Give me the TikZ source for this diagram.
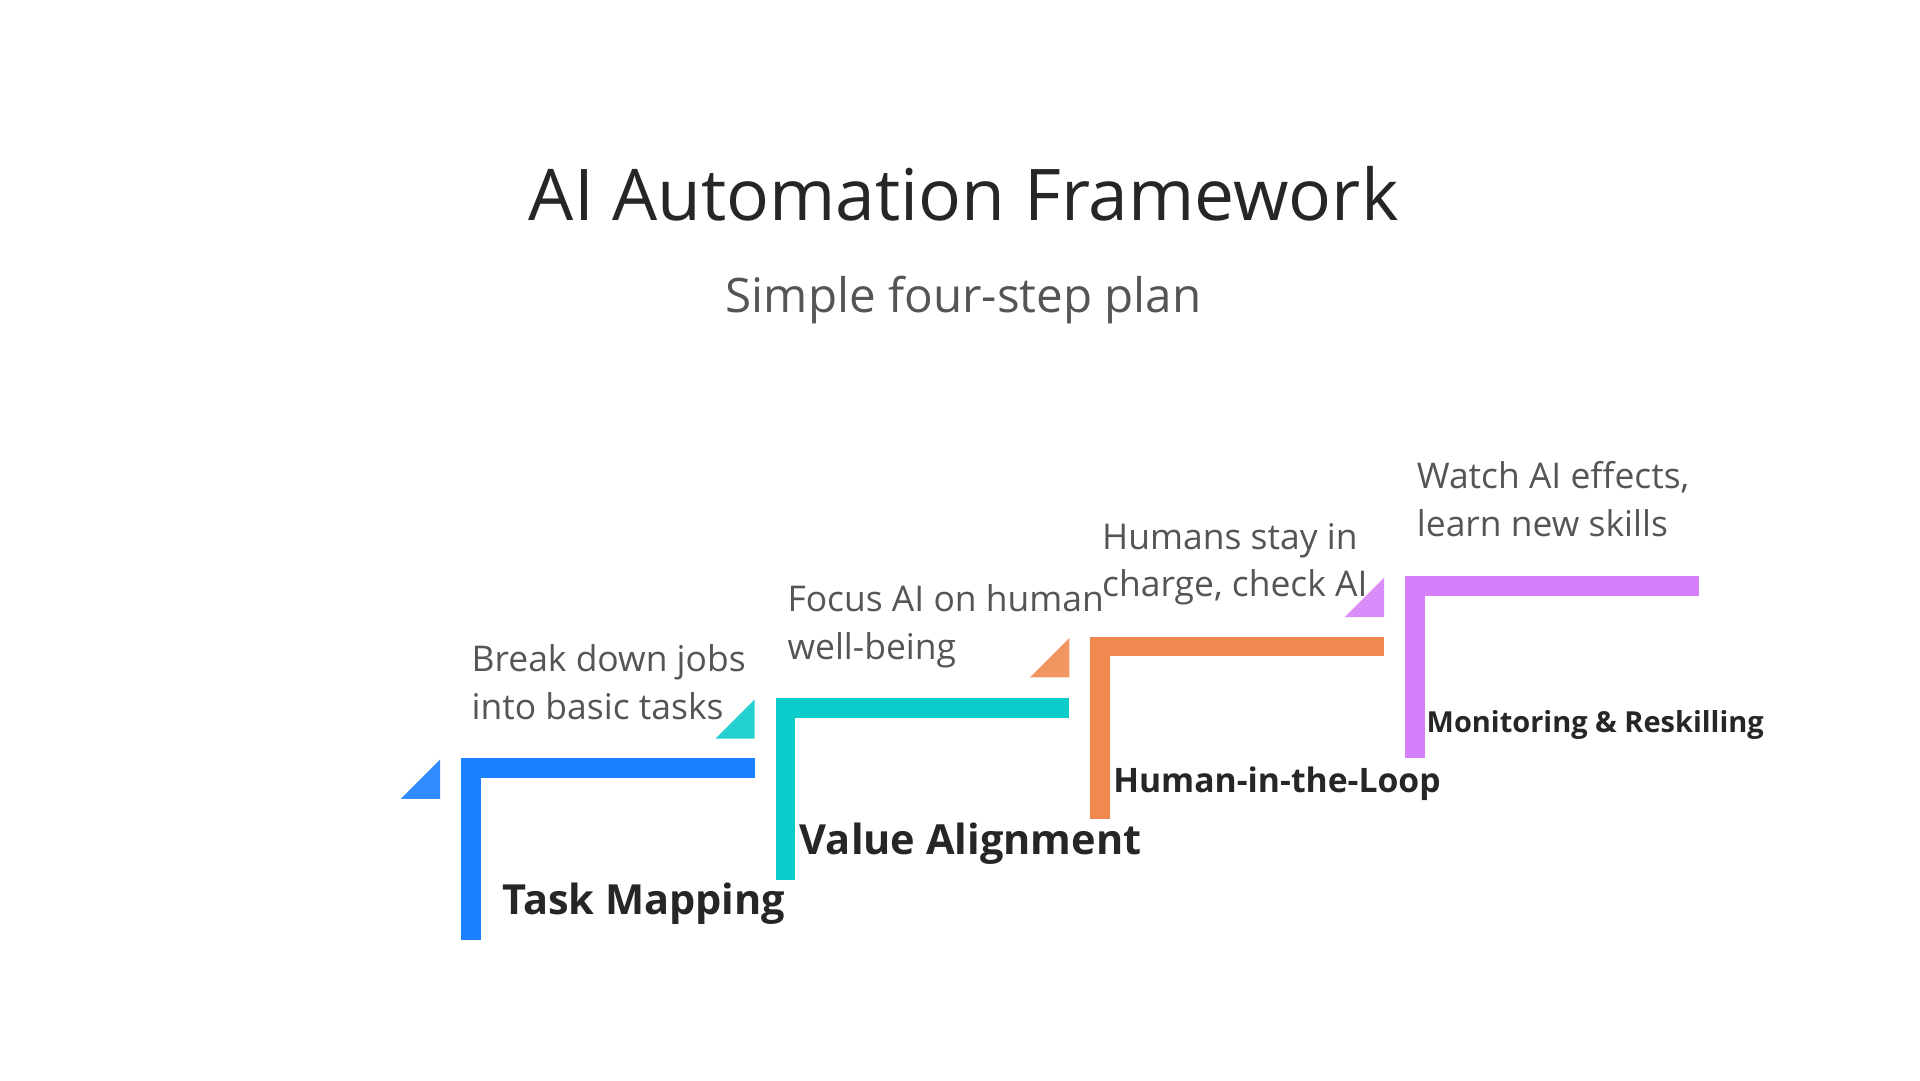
\documentclass[tikz,border=0pt]{standalone}
\usepackage{fontspec}
\setmainfont{Open Sans}
\usetikzlibrary{positioning}
\definecolor{stepA}{HTML}{1A80FF}
\definecolor{stepB}{HTML}{0CCCCC}
\definecolor{stepC}{HTML}{F0894F}
\definecolor{stepD}{HTML}{D580FA}
\definecolor{txtgray}{HTML}{555555}
\tikzset{
  desc/.style={anchor=north west,align=left,text=txtgray,font=\fontsize{8.2}{11}\selectfont,inner sep=0},
  lbl/.style={anchor=west,text=black!85,font=\bfseries,inner sep=0},
}
\newcommand{\stair}[4]{% x, y, colour, name
  \fill[#3] (#1,#2) rectangle ++(239,16);
  \fill[#3] (#1,#2) rectangle ++(16,148);
  \fill[#3!90!white] (#1-49,#2+33) -- (#1-17,#2+1) -- (#1-17,#2+33) -- cycle;
  \coordinate (#4) at (#1,#2);
}
\begin{document}
\begin{tikzpicture}[x=0.01cm,y=-0.01cm]
\useasboundingbox (0,0) rectangle (1562,879);
% title
\node[text=black!85,font=\fontsize{16.5}{20}\selectfont] (title) at (784,158) {AI Automation Framework};
\node[text=txtgray,font=\fontsize{11}{14}\selectfont] (sub) at (784,244) {Simple four-step plan};
% steps
\stair{375}{617}{stepA}{s1}
\stair{631}{568}{stepB}{s2}
\stair{887}{518}{stepC}{s3}
\stair{1143}{469}{stepD}{s4}
% labels
\node[lbl,font=\bfseries\fontsize{9.6}{12}\selectfont] (l1) at (408,735) {Task Mapping};
\node[lbl,font=\bfseries\fontsize{9.6}{12}\selectfont] (l2) at (650,686) {Value Alignment};
\node[lbl,font=\bfseries\fontsize{7.8}{10}\selectfont] (l3) at (905,638) {Human-in-the-Loop};
\node[lbl,font=\bfseries\fontsize{6.7}{9}\selectfont] (l4) at (1160,590) {Monitoring \& Reskilling};
% descriptions
\node[desc] (d1) at (383,524) {Break down jobs\\into basic tasks};
\node[desc] (d2) at (640,475) {Focus AI on human\\well-being};
\node[desc] (d3) at (896,425) {Humans stay in\\charge, check AI};
\node[desc] (d4) at (1152,375) {Watch AI effects,\\learn new skills};
\end{tikzpicture}
\end{document}
